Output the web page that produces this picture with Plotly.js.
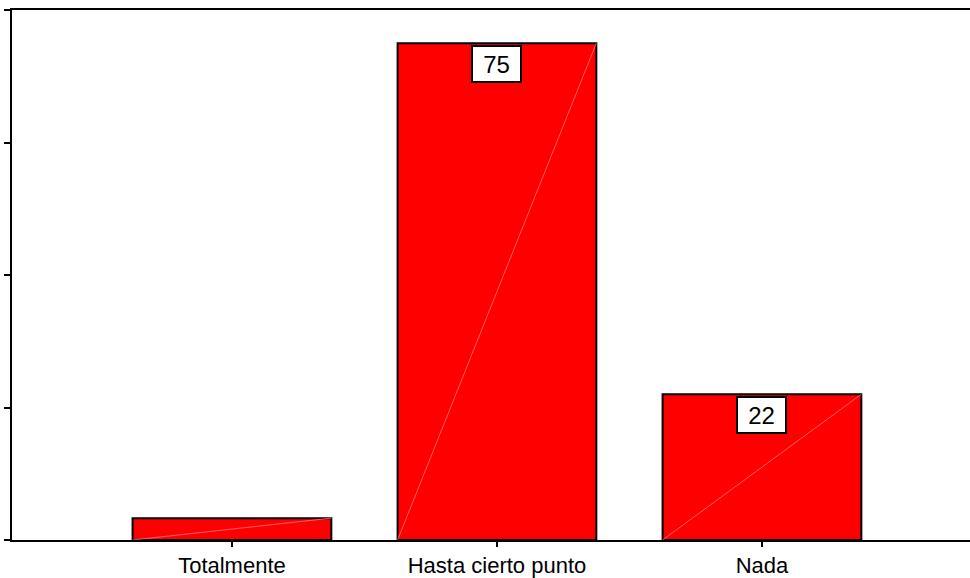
<!DOCTYPE html>
<html>
<head>
<meta charset="utf-8">
<script src="https://cdn.plot.ly/plotly-3.0.1.min.js"></script>
<style>
  html, body { margin: 0; padding: 0; background: #fff; overflow: hidden; }
  #chart { width: 970px; height: 578px; }
</style>
</head>
<body>
<div id="chart"></div>
<script>
// Response categories and their percentages
const categories = ['Totalmente', 'Hasta cierto punto', 'Nada'];
const percentages = [3.3, 75, 22];
// Only these bars carry a value label
const labelled = [false, true, true];
const yTicks = [0, 20, 40, 60, 80];

const barWidth = 0.75;
const xIdx = categories.map((_, i) => i);

const bars = {
  type: 'bar',
  x: xIdx,
  y: percentages,
  width: barWidth,
  marker: { color: '#ff0000', line: { color: '#000000', width: 2 } },
  hoverinfo: 'x+y',
  showlegend: false
};

// faint diagonal highlight across each bar, corner to corner
const shapes = percentages.map((v, i) => ({
  type: 'line', xref: 'x', yref: 'y', layer: 'above',
  x0: i - barWidth / 2, y0: 0, x1: i + barWidth / 2, y1: v,
  line: { color: 'rgba(255,130,130,0.75)', width: 1 }
}));

// boxed value labels just under the top of the bar
const annotations = percentages
  .map((v, i) => ({ v, i }))
  .filter(d => labelled[d.i])
  .map(d => ({
    x: d.i, y: d.v, xref: 'x', yref: 'y',
    text: String(Math.round(d.v)),
    showarrow: false,
    yanchor: 'top', xanchor: 'center',
    yshift: -2,
    width: 47, height: 34,
    bgcolor: '#ffffff', bordercolor: '#000000', borderwidth: 2, borderpad: 0,
    font: { family: 'Liberation Sans, Arial, sans-serif', size: 24, color: '#000' }
  }));

const layout = {
  width: 970, height: 578,
  margin: { l: 12, r: 0, t: 10, b: 38, pad: 0 },
  paper_bgcolor: '#ffffff',
  plot_bgcolor: '#ffffff',
  font: { family: 'Liberation Sans, Arial, sans-serif', color: '#000' },
  xaxis: {
    range: [-0.83, 2.785],
    tickmode: 'array',
    tickvals: xIdx,
    ticktext: categories,
    ticks: 'outside', ticklen: 5, tickwidth: 2, tickcolor: '#000',
    tickfont: { size: 22, color: '#000' },
    showline: true, linecolor: '#000', linewidth: 2, mirror: true,
    showgrid: false, zeroline: false, fixedrange: true
  },
  yaxis: {
    range: [0, 80],
    tickmode: 'array',
    tickvals: yTicks,
    showticklabels: false,
    ticks: 'outside', ticklen: 6, tickwidth: 2, tickcolor: '#000',
    showline: true, linecolor: '#000', linewidth: 2, mirror: false,
    showgrid: false, zeroline: false, fixedrange: true
  },
  shapes: shapes,
  annotations: annotations,
  bargap: 0.25
};

Plotly.newPlot('chart', [bars], layout, { displayModeBar: false, staticPlot: true });
</script>
</body>
</html>
